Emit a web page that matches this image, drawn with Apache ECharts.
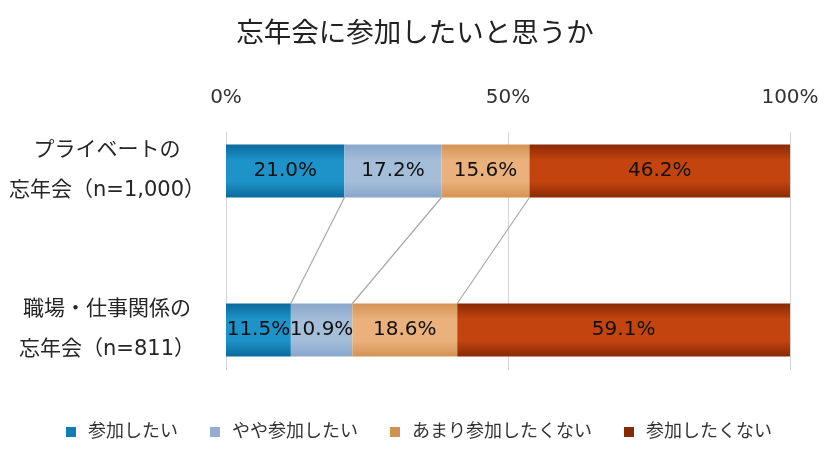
<!DOCTYPE html>
<html>
<head>
<meta charset="utf-8">
<script src="https://cdn.jsdelivr.net/npm/echarts@6/dist/echarts.min.js"></script>
<style>
  html, body { margin: 0; padding: 0; background: #fff; }
  #chart { width: 830px; height: 458px; }
</style>
</head>
<body>
<div id="chart"></div>
<script>
const categories = ['プライベートの\n忘年会（n=1,000）', '職場・仕事関係の\n忘年会（n=811）'];
const seriesNames = ['参加したい', 'やや参加したい', 'あまり参加したくない', '参加したくない'];
const wantYes = [21.0, 11.5];
const wantSomewhat = [17.2, 10.9];
const wantLittle = [15.6, 18.6];
const wantNo = [46.2, 59.1];
const tickLabels = [0, 50, 100];

const FONT = '"DejaVu Sans", "Noto Sans CJK JP", sans-serif';
const BAR_W = 53;

// edge / centre / legend colours for each series
const palette = [
    { edge: '#0b6a9c', mid: '#1d93c9', icon: '#137cb1' },
    { edge: '#88a6cb', mid: '#a4bdd9', icon: '#95aed0' },
    { edge: '#d39354', mid: '#eab17c', icon: '#d19050' },
    { edge: '#892a05', mid: '#c4440f', icon: '#842a05' }
];

function barGradient(c) {
    return new echarts.graphic.LinearGradient(0, 0, 0, 1, [
        { offset: 0, color: c.edge },
        { offset: 0.3, color: c.mid },
        { offset: 0.7, color: c.mid },
        { offset: 1, color: c.edge }
    ]);
}

const chart = echarts.init(document.getElementById('chart'));

const values = [wantYes, wantSomewhat, wantLittle, wantNo];

// cumulative boundaries between segments, for the connecting lines
const links = [];
for (let k = 1; k < values.length; k++) {
    let top = 0, bottom = 0;
    for (let j = 0; j < k; j++) {
        top += values[j][0];
        bottom += values[j][1];
    }
    links.push([top, 0, bottom]);
}

const barSeries = seriesNames.map((name, i) => ({
    name: name,
    type: 'bar',
    stack: 'total',
    xAxisIndex: 1,
    yAxisIndex: 1,
    barWidth: BAR_W,
    itemStyle: { color: barGradient(palette[i]) },
    label: {
        show: true,
        position: 'inside',
        color: '#111111',
        fontFamily: FONT,
        fontSize: 20,
        formatter: p => p.value.toFixed(1) + '%'
    },
    emphasis: { disabled: true },
    data: values[i]
}));

const option = {
    animation: false,
    title: {
        text: '忘年会に参加したいと思うか',
        left: 'center',
        top: 16,
        textStyle: { fontFamily: FONT, fontSize: 27.5, fontWeight: 'normal', color: '#222222' }
    },
    legend: {
        left: 66,
        top: 423,
        padding: 0,
        itemWidth: 10,
        itemHeight: 10,
        itemGap: 32,
        icon: 'rect',
        textStyle: { fontFamily: FONT, fontSize: 18, color: '#333333', padding: [0, 0, 0, 7] },
        data: seriesNames.map((n, i) => ({ name: n, itemStyle: { color: palette[i].icon } }))
    },
    grid: [
        { left: 226, right: 40, top: 132, height: 238 },
        { left: 226, right: 40, top: 91.5, height: 318 }
    ],
    xAxis: [
        {
            gridIndex: 0,
            type: 'value',
            position: 'top',
            min: 0,
            max: 100,
            interval: 50,
            axisLine: { show: false },
            axisTick: { show: false },
            axisLabel: {
                margin: 24,
                fontFamily: FONT,
                fontSize: 20,
                color: '#333333',
                formatter: v => tickLabels.includes(v) ? v + '%' : ''
            },
            splitLine: { show: true, lineStyle: { color: '#d4d4d4', width: 1 } }
        },
        { gridIndex: 1, type: 'value', min: 0, max: 100, show: false }
    ],
    yAxis: [
        { gridIndex: 0, type: 'value', show: false },
        {
            gridIndex: 1,
            type: 'category',
            inverse: true,
            data: categories,
            axisLine: { show: false },
            axisTick: { show: false },
            axisLabel: {
                margin: 119,
                align: 'center',
                fontFamily: FONT,
                fontSize: 21,
                lineHeight: 40,
                color: '#262626'
            }
        }
    ],
    series: barSeries.concat([{
        type: 'custom',
        xAxisIndex: 1,
        yAxisIndex: 1,
        silent: true,
        encode: { x: 0, y: 1 },
        renderItem: function (params, api) {
            const p1 = api.coord([api.value(0), 0]);
            const p2 = api.coord([api.value(2), 1]);
            const half = BAR_W / 2;
            return {
                type: 'line',
                shape: { x1: p1[0], y1: p1[1] + half, x2: p2[0], y2: p2[1] - half },
                style: { stroke: '#a8a8a8', lineWidth: 1.2 }
            };
        },
        data: links
    }])
};

chart.setOption(option);
</script>
</body>
</html>
